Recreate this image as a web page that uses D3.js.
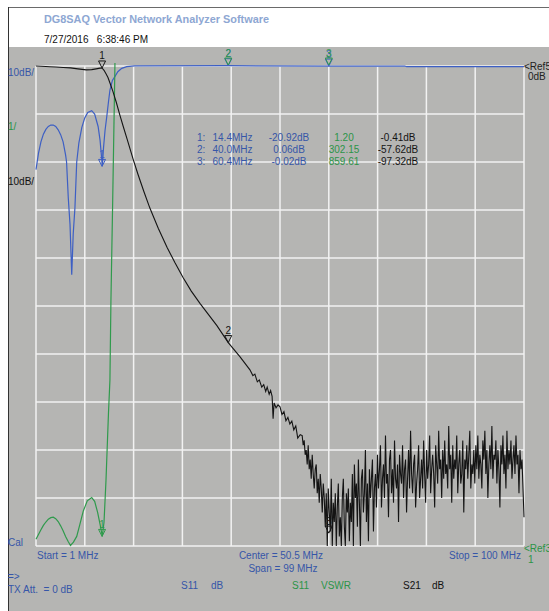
<!DOCTYPE html>
<html>
<head>
<meta charset="utf-8">
<script src="https://cdn.jsdelivr.net/npm/d3@7"></script>
<style>
body { margin: 0; background: #fff; }
svg { display: block; font-family: "Liberation Sans", Arial, sans-serif; }
</style>
</head>
<body>
<div id="chart"></div>
<script>
// sweep 1 MHz .. 100 MHz
var startMHz = 1, stopMHz = 100;

// S11 dB (blue)  [MHz, dB]
var s11Db = [[1,-21.6],[1.5,-18.2],[2,-15.8],[2.5,-14.2],[3,-13.2],[3.5,-12.6],[4,-12.3],[4.5,-12.3],
  [5,-12.6],[5.5,-13.3],[6,-14.3],[6.5,-15.8],[7,-18.5],[7.2,-20],[7.55,-27.5],[7.9,-33],[8.25,-43.5],
  [8.55,-35],[8.9,-29.5],[9.26,-20],[9.7,-16],[10.3,-12.8],[10.9,-10.8],[11.5,-9.7],[12.3,-9.3],
  [12.9,-10],[13.6,-12.6],[14.0,-15.5],[14.3,-19],[14.45,-20.9],[14.7,-17],[15.0,-13.5],[15.35,-10.6],
  [15.7,-7.5],[16.0,-5],[16.5,-3],[17,-2.2],[17.6,-1.2],[18.4,-0.5],[19.4,-0.12],[21,0.02],
  [40,0.06],[60.4,-0.02],[75.8,0.0],[76.2,-0.15],[100,-0.15]];

// S11 VSWR (green)  [MHz, VSWR]
var s11Vswr = [[1,1.14],[1.5,1.24],[2,1.34],[2.5,1.43],[3,1.5],[3.5,1.56],[4,1.59],[4.5,1.6],
  [5,1.57],[5.5,1.51],[6,1.42],[6.5,1.32],[7,1.2],[7.5,1.1],[8,1.01],[8.6,1.08],[9.26,1.2],
  [9.9,1.45],[10.6,1.73],[11.4,1.94],[12.3,2.01],[12.9,1.93],[13.5,1.7],[14.0,1.45],[14.45,1.2],
  [14.8,1.5],[15.2,2.37],[15.7,3.76],[16.0,4.46],[16.2,6.1],[16.56,8.2],[16.9,10.3],[17.1,11.6],
  [17.6,20],[18.5,60],[20,150],[30,260],[40,302.15],[60.4,859.61],[100,900]];

// S21 dB (black), through the roll-off  [MHz, dB]
var s21Db = [[1,0],[2,-0.05],[3,-0.1],[3.8,-0.15],[5,-0.2],[6.5,-0.3],[8,-0.4],[9.5,-0.6],
  [11.2,-0.8],[12.3,-0.75],[13.2,-0.6],[14,-0.45],[14.4,-0.41],[14.8,-0.9],[15.2,-1.6],[15.6,-2.4],
  [16.1,-3.8],[16.6,-5.3],[17.3,-7.6],[18,-10.2],[18.7,-12.6],[19.5,-15.3],[20.7,-19.4],[21.7,-22.6],
  [22.9,-26.2],[24.1,-29.6],[25.8,-33.8],[27.6,-37.8],[29.2,-41],[30.8,-44],[32.5,-46.9],[34.3,-49.5],
  [36,-51.8],[37.7,-54.1],[40,-57.62],[42.4,-60.6],[44.4,-63.3],[45,-64.5],[45.4,-64.2],[45.9,-65.8],
  [46.3,-65.4],[46.8,-66.9],[47.2,-66.4],[47.6,-67.8],[47.9,-66.9],[48.3,-68.4],[48.6,-67.6],
  [48.9,-68.8],[49.1,-73.5],[49.3,-70.2],[49.7,-71.2],[50.1,-70.6],[50.5,-71],[50.9,-72.6],
  [51.3,-72],[51.7,-73.9],[52.1,-73.2],[52.5,-74.6],[52.9,-74],[53.3,-75.8],[53.7,-75],[54.1,-77.5],
  [54.6,-76.8]];

// S21 noise floor, sweep points evenly spaced from 55 to 100 MHz (dB)
var floorStart = 55, floorStop = 100;
var s21Floor = [
  -77,-79,-78,-81,-80,-83,-79,-84,-82,-86,-81,-85,-88,-84,-83,-89,-86,-91,-85,-88,-93,-87,-90,-96,-89,
  -100,-88,-93,-97,-86,-100,-91,-95,-89,-100,-92,-87,-98,-94,-100,-90,-86,-96,-100,-89,-93,-88,-99,-91,-95,
  -85,-100,-83,-90,-87,-96,-82,-91,-100,-86,-84,-93,-89,-80,-95,-87,-99,-84,-90,-86,-82,-97,-88,-85,-92,
  -81,-88,-84,-79,-92,-86,-83,-90,-77,-87,-85,-94,-82,-80,-89,-84,-91,-78,-86,-88,-83,-95,-81,-85,-87,
  -79,-90,-84,-82,-93,-86,-80,-88,-76,-85,-89,-83,-81,-92,-87,-84,-79,-90,-86,-82,-88,-78,-85,-91,
  -80,-86,-83,-77,-89,-84,-81,-85,-92,-79,-83,-87,-76,-84,-82,-90,-80,-86,-78,-85,-83,-88,-75,-84,-81,
  -91,-79,-86,-82,-84,-77,-89,-83,-80,-87,-85,-78,-93,-82,-84,-79,-86,-81,-76,-88,-83,-85,-80,-87,
  -79,-84,-77,-86,-81,-83,-88,-78,-82,-76,-85,-80,-90,-83,-79,-84,-75,-86,-81,-82,-78,-87,-80,-84,-92,
  -79,-83,-77,-85,-81,-88,-76,-84,-80,-83,-78,-86,-82,-79,-85,-77,-83,-81,-89,-80,-84,-82,-88,-94];

// markers
var markerNames = ["1", "2", "3"];
var markerFreq = [14.4, 40.0, 60.4];
var markerS11Db = [-20.92, 0.06, -0.02];
var markerVswr = [1.20, 302.15, 859.61];
var markerS21Db = [-0.41, -57.62, -97.32];

var blue = "#3d5fc4", green = "#2f9a4c", black = "#141414";
var blueText = "#3656a8", greenText = "#2c9448";

var svg = d3.select("#chart").append("svg")
    .attr("width", 549)
    .attr("height", 611);

// window frame
svg.append("rect").attr("x", 9).attr("y", 47).attr("width", 540).attr("height", 564).attr("fill", "#b5b5b3");
svg.append("line").attr("x1", 8).attr("x2", 549).attr("y1", 7.5).attr("y2", 7.5).attr("stroke", "#6a6a6a");
svg.append("line").attr("x1", 8.5).attr("x2", 8.5).attr("y1", 7).attr("y2", 611).attr("stroke", "#333");

var x = d3.scaleLinear().domain([startMHz, stopMHz]).range([36, 524]);
var yDb = d3.scaleLinear().domain([-100, 0]).range([546, 66]);
var yVswr = d3.scaleLinear().domain([1, 11]).range([546, 66]);

// grid, 10 divisions each way
var grid = svg.append("g").attr("stroke", "#f2f2f2").attr("stroke-width", 1.5);
grid.selectAll(".gx").data(d3.range(0, 11)).enter().append("line")
    .attr("x1", function (i) { return x(startMHz + i * (stopMHz - startMHz) / 10); })
    .attr("x2", function (i) { return x(startMHz + i * (stopMHz - startMHz) / 10); })
    .attr("y1", yDb(0)).attr("y2", yDb(-100));
grid.selectAll(".gy").data(d3.range(0, 11)).enter().append("line")
    .attr("x1", x(startMHz)).attr("x2", x(stopMHz))
    .attr("y1", function (i) { return yDb(-i * 10); })
    .attr("y2", function (i) { return yDb(-i * 10); });

svg.append("clipPath").attr("id", "plot").append("rect")
    .attr("x", 35).attr("y", 63).attr("width", 490).attr("height", 484);

var traces = svg.append("g").attr("clip-path", "url(#plot)").attr("fill", "none");

var floorStep = (floorStop - floorStart) / (s21Floor.length - 1);
var s21All = s21Db.concat(s21Floor.map(function (v, i) { return [floorStart + i * floorStep, v]; }));

var lineDb = d3.line().x(function (d) { return x(d[0]); }).y(function (d) { return yDb(d[1]); });
var lineVswr = d3.line().x(function (d) { return x(d[0]); }).y(function (d) { return yVswr(d[1]); });

traces.append("path").attr("d", lineDb(s11Db)).attr("stroke", blue).attr("stroke-width", 1.2);
traces.append("path").attr("d", lineVswr(s11Vswr)).attr("stroke", green).attr("stroke-width", 1.2);
traces.append("path").attr("d", lineDb(s21All)).attr("stroke", black).attr("stroke-width", 1.1);

// marker triangles, tip on the trace
function marker(f, y, color, label) {
    var cx = x(f);
    svg.append("path")
        .attr("d", "M" + (cx - 3.5) + "," + (y - 7) + "L" + (cx + 3.5) + "," + (y - 7) + "L" + cx + "," + y + "Z")
        .attr("fill", "none").attr("stroke", color).attr("stroke-width", 1);
    svg.append("text").attr("x", cx).attr("y", y - 8.5).attr("text-anchor", "middle")
        .attr("font-size", 10).attr("fill", color).text(label);
}
var vTop = yVswr(11) - 1;
markerFreq.forEach(function (f, i) {
    marker(f, Math.min(yDb(markerS11Db[i]), 546), blue, markerNames[i]);
    marker(f, Math.min(yDb(markerS21Db[i]), 546), black, markerNames[i]);
    marker(f, Math.max(yVswr(markerVswr[i]), vTop), green, markerNames[i]);
});

// marker readout table
var rowY = [141, 153, 165];
markerFreq.forEach(function (f, i) {
    var g = svg.append("g").attr("font-size", 10);
    g.append("text").attr("x", 197).attr("y", rowY[i]).attr("fill", blueText).text(markerNames[i] + ":");
    g.append("text").attr("x", 212.5).attr("y", rowY[i]).attr("fill", blueText).text(f.toFixed(1) + "MHz");
    g.append("text").attr("x", 289).attr("y", rowY[i]).attr("text-anchor", "middle").attr("fill", blueText).text(markerS11Db[i].toFixed(2) + "dB");
    g.append("text").attr("x", 344).attr("y", rowY[i]).attr("text-anchor", "middle").attr("fill", greenText).text(markerVswr[i].toFixed(2));
    g.append("text").attr("x", 398).attr("y", rowY[i]).attr("text-anchor", "middle").attr("fill", black).text(markerS21Db[i].toFixed(2) + "dB");
});

// header and labels
svg.append("text").attr("x", 44).attr("y", 23).attr("font-size", 11.5).attr("font-weight", "bold")
    .attr("fill", "#8ea7d3").attr("textLength", 225).attr("lengthAdjust", "spacingAndGlyphs")
    .text("DG8SAQ Vector Network Analyzer Software");
svg.append("text").attr("x", 44).attr("y", 43).attr("font-size", 10).attr("fill", "#111")
    .attr("xml:space", "preserve").text("7/27/2016   6:38:46 PM");

var labels = [
    { t: "10dB/", x: 8, y: 76, c: blueText },
    { t: "1/", x: 8, y: 130, c: greenText },
    { t: "10dB/", x: 8, y: 185, c: "#111" },
    { t: "Cal", x: 8, y: 546, c: blueText },
    { t: "<Ref5", x: 524, y: 70, c: "#222" },
    { t: "0dB", x: 528, y: 80, c: "#222" },
    { t: "<Ref3", x: 524, y: 552, c: greenText },
    { t: "1", x: 528, y: 563, c: greenText },
    { t: "Start = 1 MHz", x: 37, y: 559, c: blueText },
    { t: "Center = 50.5 MHz", x: 281, y: 559, c: blueText, a: "middle" },
    { t: "Span = 99 MHz", x: 283, y: 572, c: blueText, a: "middle" },
    { t: "Stop = 100 MHz", x: 521, y: 559, c: blueText, a: "end" },
    { t: "=>", x: 8, y: 580, c: blueText },
    { t: "TX Att.  = 0 dB", x: 8, y: 593, c: blueText },
    { t: "S11", x: 181, y: 589, c: blueText },
    { t: "dB", x: 211, y: 589, c: blueText },
    { t: "S11", x: 292, y: 589, c: greenText },
    { t: "VSWR", x: 321, y: 589, c: greenText },
    { t: "S21", x: 403, y: 589, c: "#111" },
    { t: "dB", x: 432, y: 589, c: "#111" }
];
svg.selectAll(".lbl").data(labels).enter().append("text")
    .attr("x", function (d) { return d.x; })
    .attr("y", function (d) { return d.y; })
    .attr("text-anchor", function (d) { return d.a || "start"; })
    .attr("font-size", 10)
    .attr("xml:space", "preserve")
    .attr("fill", function (d) { return d.c; })
    .text(function (d) { return d.t; });
</script>
</body>
</html>
